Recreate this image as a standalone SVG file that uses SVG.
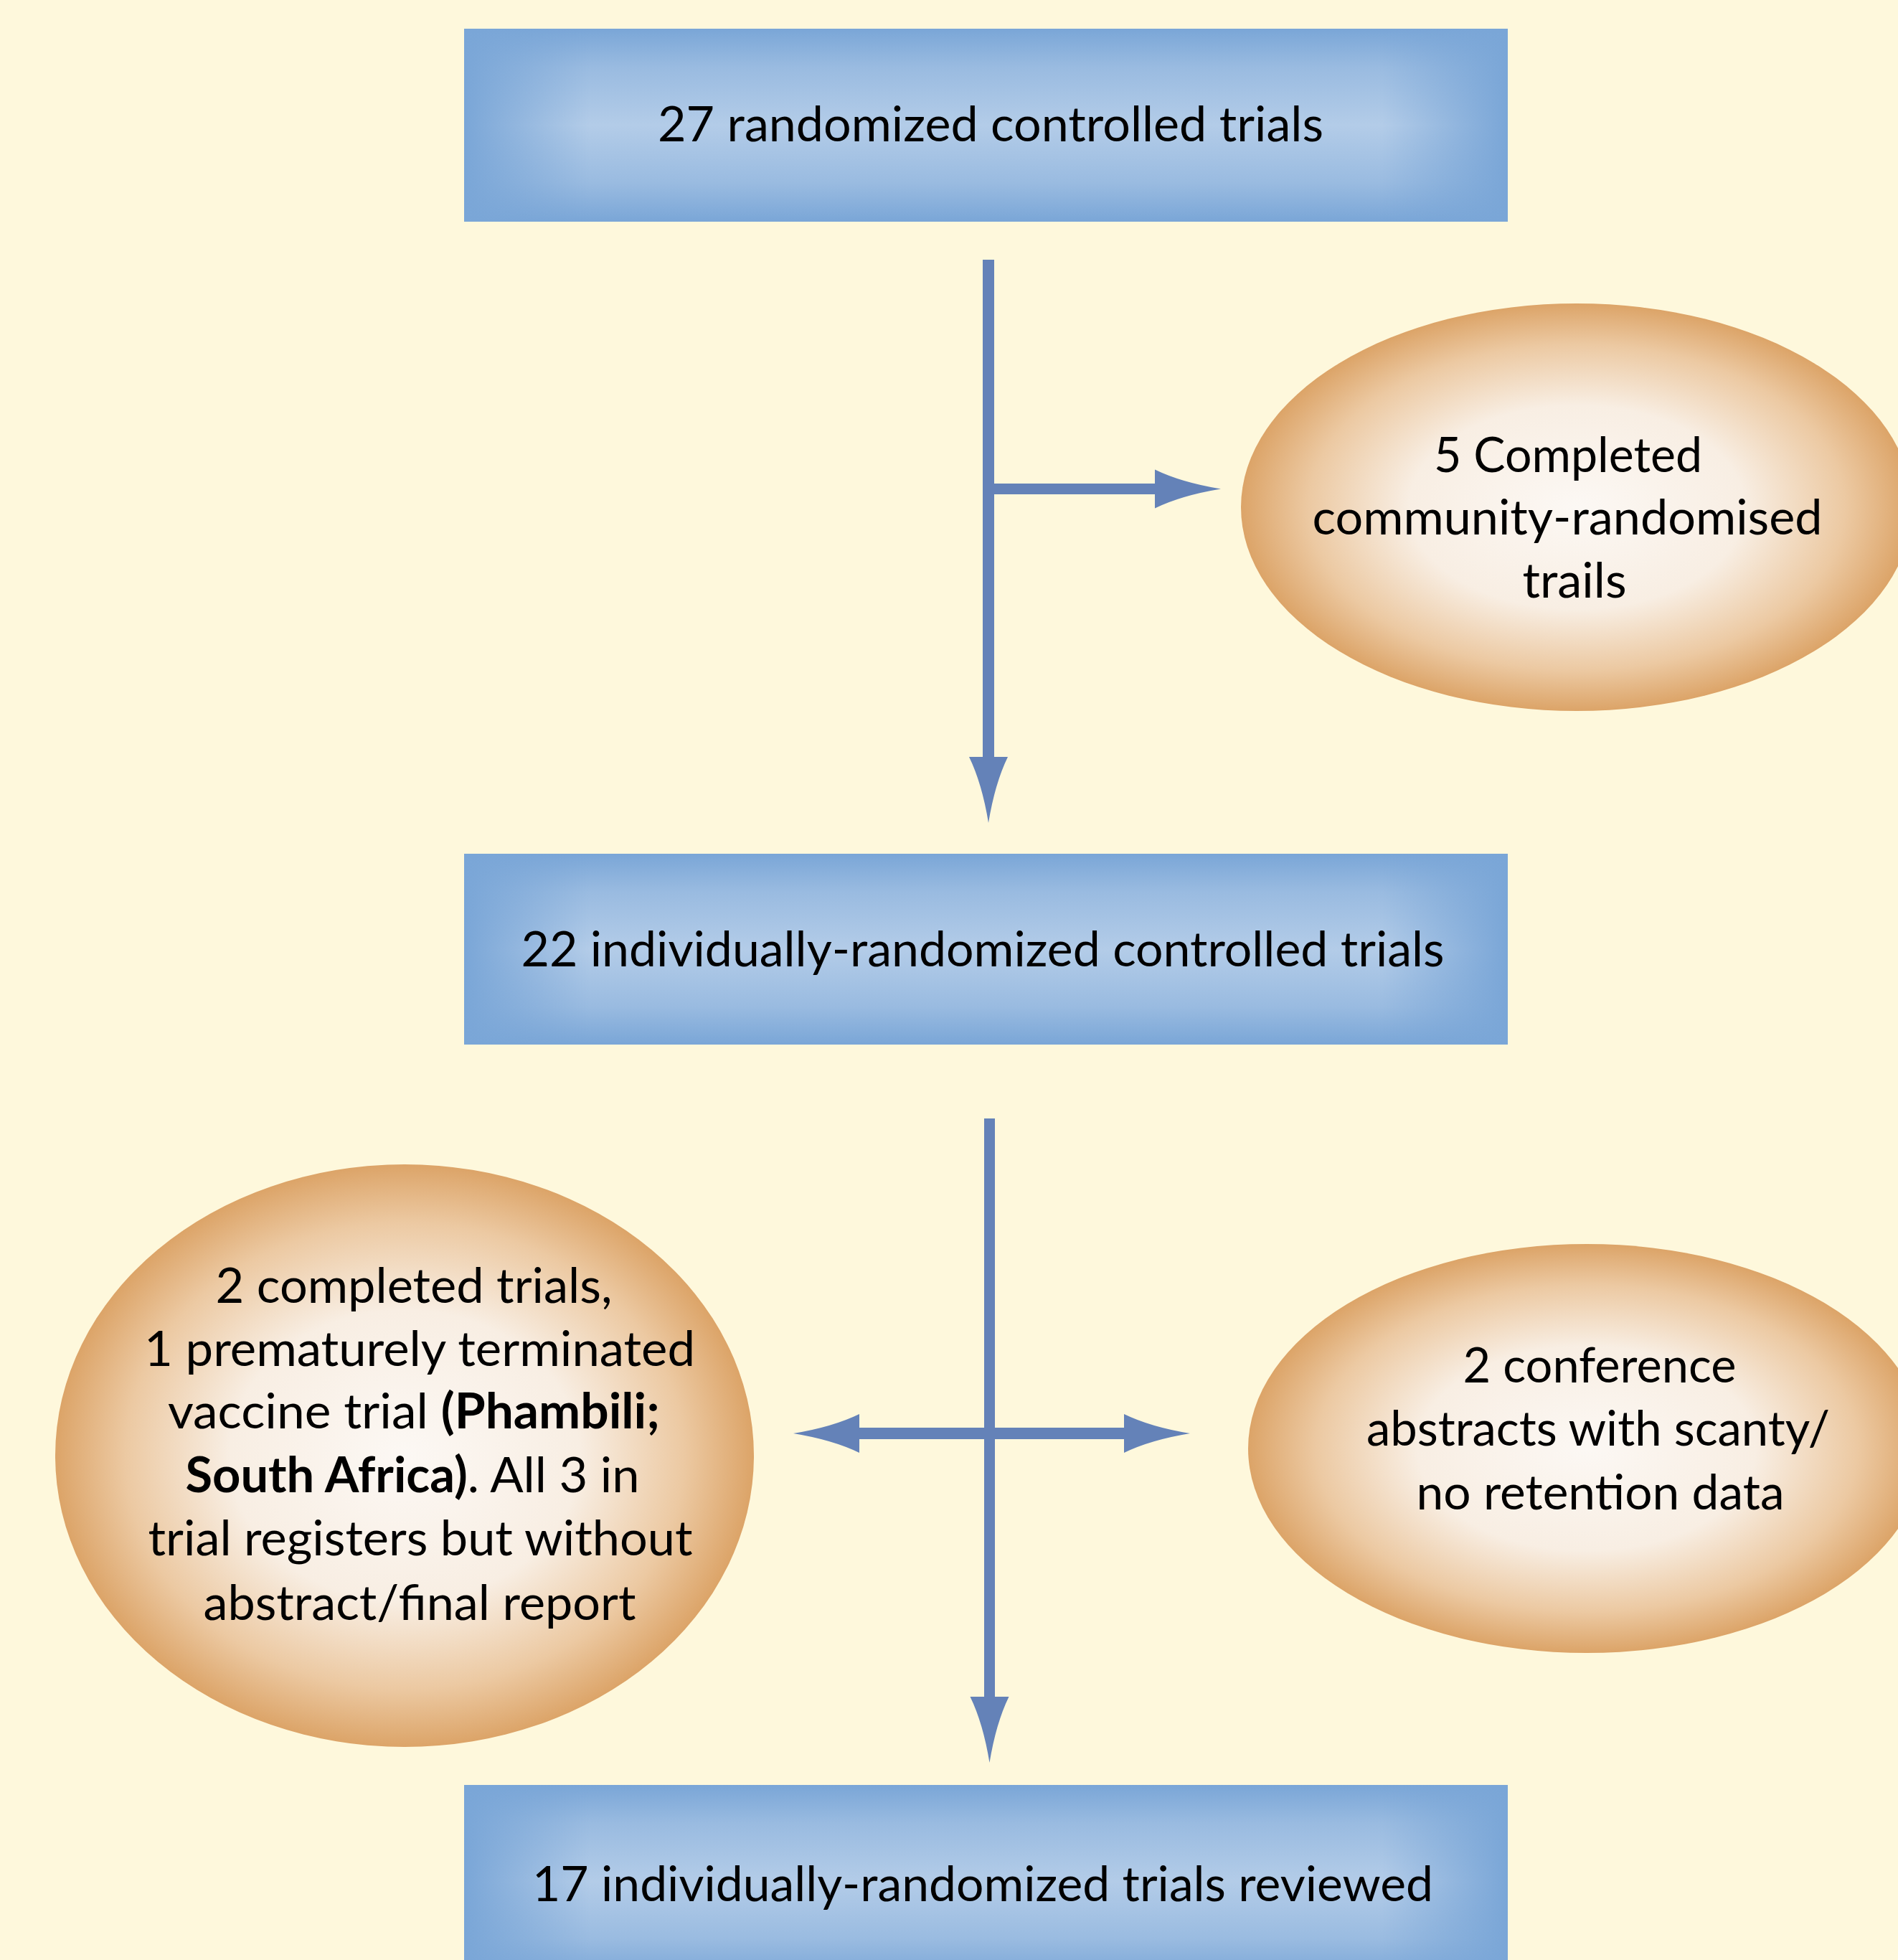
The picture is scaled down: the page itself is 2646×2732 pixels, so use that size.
<svg xmlns="http://www.w3.org/2000/svg" xmlns:xlink="http://www.w3.org/1999/xlink" width="2646" height="2732" viewBox="0 0 2646 2732">
<defs>
  <linearGradient id="bv" x1="0" y1="0" x2="0" y2="1">
    <stop offset="0" stop-color="#7aa6d7" stop-opacity="1"/>
    <stop offset="0.2" stop-color="#7aa6d7" stop-opacity="0.45"/>
    <stop offset="0.5" stop-color="#7aa6d7" stop-opacity="0"/>
    <stop offset="0.8" stop-color="#7aa6d7" stop-opacity="0.45"/>
    <stop offset="1" stop-color="#7aa6d7" stop-opacity="1"/>
  </linearGradient>
  <linearGradient id="bh" x1="0" y1="0" x2="1" y2="0">
    <stop offset="0" stop-color="#7aa6d7" stop-opacity="1"/>
    <stop offset="0.12" stop-color="#7aa6d7" stop-opacity="0"/>
    <stop offset="0.88" stop-color="#7aa6d7" stop-opacity="0"/>
    <stop offset="1" stop-color="#7aa6d7" stop-opacity="1"/>
  </linearGradient>
  <radialGradient id="eg" cx="0.5" cy="0.5" r="0.5">
    <stop offset="0" stop-color="#fcf8f4"/>
    <stop offset="0.5" stop-color="#f8eee3"/>
    <stop offset="0.8" stop-color="#ecc9a2"/>
    <stop offset="1" stop-color="#dca468"/>
  </radialGradient>
  <path id="ah" d="M-92,-27 Q-55,-9 0,0 Q-55,9 -92,27 Z"/>
</defs>
<style>
  .bg { fill: #fef8dc; }
  .boxbase { fill: #b3cce8; }
  .bvo { fill: url(#bv); }
  .bho { fill: url(#bh); }
  .ell { fill: url(#eg); }
  .t { font-family: Lato, "Open Sans", "Liberation Sans", sans-serif; font-size: 68px; fill: #000; text-anchor: middle; }
  .b { font-weight: bold; }
  .ln { stroke: #6482b8; fill: none; }
  .hd { fill: #6482b8; }
</style>
<rect class="bg" x="0" y="0" width="2646" height="2732"/>

<g id="connectors">
  <line class="ln" x1="1378" y1="362" x2="1378" y2="1058" stroke-width="16"/>
  <use xlink:href="#ah" class="hd" transform="translate(1378,1147) rotate(90)"/>
  <line class="ln" x1="1378" y1="681.5" x2="1613" y2="681.5" stroke-width="15"/>
  <use xlink:href="#ah" class="hd" transform="translate(1702,681.5)"/>
  <line class="ln" x1="1379.5" y1="1559" x2="1379.5" y2="2369" stroke-width="15"/>
  <use xlink:href="#ah" class="hd" transform="translate(1379.5,2457) rotate(90)"/>
  <line class="ln" x1="1195" y1="1998" x2="1570" y2="1998" stroke-width="16"/>
  <use xlink:href="#ah" class="hd" transform="translate(1106,1998) rotate(180)"/>
  <use xlink:href="#ah" class="hd" transform="translate(1659,1998)"/>
</g>

<g id="n1">
  <rect class="boxbase" x="647" y="40" width="1455" height="269"/>
  <rect class="bvo" x="647" y="40" width="1455" height="269"/>
  <rect class="bho" x="647" y="40" width="1455" height="269"/>
  <text class="t" x="1381" y="197" textLength="928" lengthAdjust="spacingAndGlyphs">27 randomized controlled trials</text>
</g>

<g id="n2">
  <ellipse class="ell" cx="2198" cy="707" rx="468" ry="284"/>
  <text class="t" x="2186" y="658" textLength="374" lengthAdjust="spacingAndGlyphs">5 Completed</text>
  <text class="t" x="2185" y="745" textLength="711" lengthAdjust="spacingAndGlyphs">community-randomised</text>
  <text class="t" x="2195" y="833" textLength="145" lengthAdjust="spacingAndGlyphs">trails</text>
</g>

<g id="n3">
  <rect class="boxbase" x="647" y="1190" width="1455" height="266"/>
  <rect class="bvo" x="647" y="1190" width="1455" height="266"/>
  <rect class="bho" x="647" y="1190" width="1455" height="266"/>
  <text class="t" x="1370" y="1347" textLength="1287" lengthAdjust="spacingAndGlyphs">22 individually-randomized controlled trials</text>
</g>

<g id="n4">
  <ellipse class="ell" cx="564" cy="2029" rx="487" ry="406"/>
  <text class="t" x="577" y="1816" textLength="553" lengthAdjust="spacingAndGlyphs">2 completed trials,</text>
  <text class="t" x="585" y="1904" textLength="768" lengthAdjust="spacingAndGlyphs">1 prematurely terminated</text>
  <text class="t" x="577" y="1991" textLength="686" lengthAdjust="spacingAndGlyphs">vaccine trial <tspan class="b">(Phambili;</tspan></text>
  <text class="t" x="575" y="2080" textLength="633" lengthAdjust="spacingAndGlyphs"><tspan class="b">South Africa)</tspan>. All 3 in</text>
  <text class="t" x="586" y="2168" textLength="759" lengthAdjust="spacingAndGlyphs">trial registers but without</text>
  <text class="t" x="585" y="2258" textLength="603" lengthAdjust="spacingAndGlyphs">abstract/final report</text>
</g>

<g id="n5">
  <ellipse class="ell" cx="2212" cy="2019" rx="472" ry="285"/>
  <text class="t" x="2230" y="1927" textLength="381" lengthAdjust="spacingAndGlyphs">2 conference</text>
  <text class="t" x="2228" y="2015" textLength="646" lengthAdjust="spacingAndGlyphs">abstracts with scanty/</text>
  <text class="t" x="2231" y="2104" textLength="513" lengthAdjust="spacingAndGlyphs">no retention data</text>
</g>

<g id="n6">
  <rect class="boxbase" x="647" y="2488" width="1455" height="269"/>
  <rect class="bvo" x="647" y="2488" width="1455" height="269"/>
  <rect class="bho" x="647" y="2488" width="1455" height="269"/>
  <text class="t" x="1370" y="2650" textLength="1256" lengthAdjust="spacingAndGlyphs">17 individually-randomized trials reviewed</text>
</g>
</svg>
